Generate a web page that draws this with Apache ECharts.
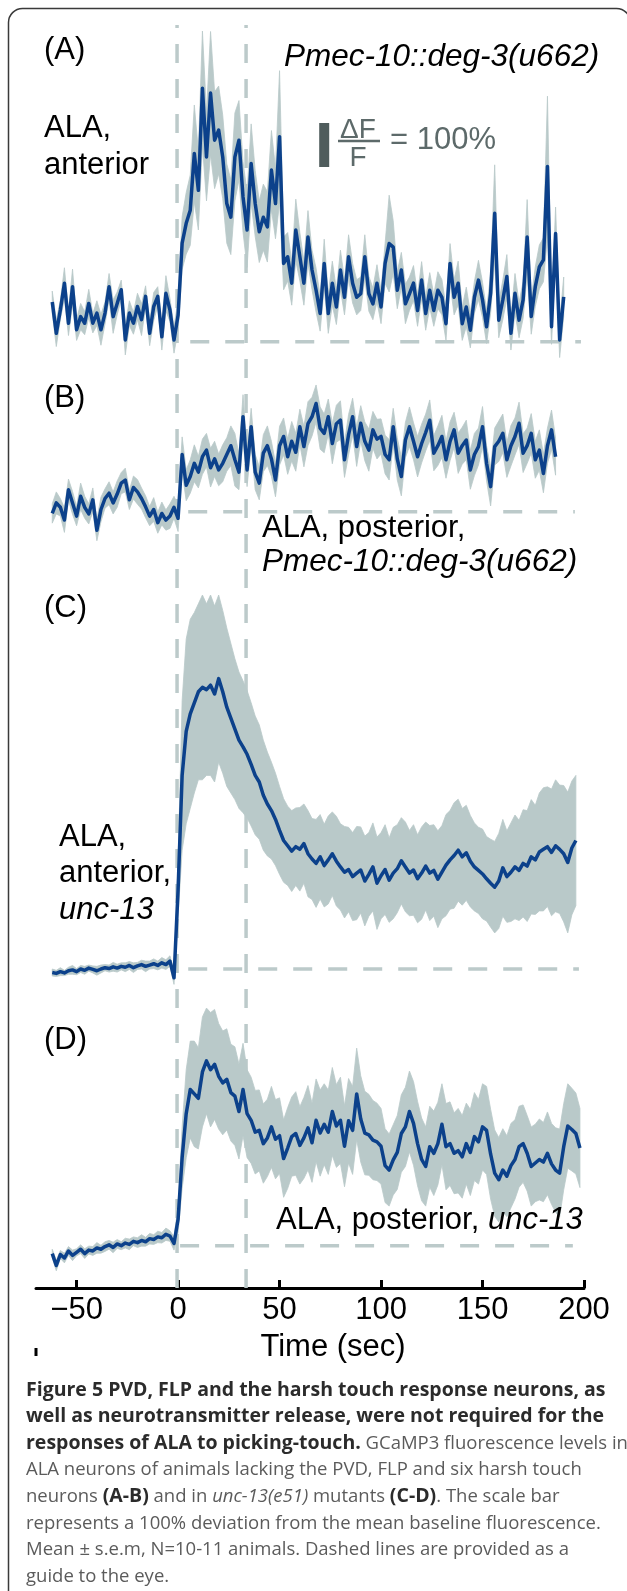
<!DOCTYPE html>
<html><head><meta charset="utf-8">
<script src="https://cdn.jsdelivr.net/npm/echarts@6/dist/echarts.min.js"></script>
<style>html,body{margin:0;padding:0;background:#fff}#c{width:627px;height:1591px}</style>
</head><body><div id="c"></div><script>
// sampling of traces: first sample time and step (s)
const T0 = -62, DT = 2;

// Panel A: ALA anterior, Pmec-10::deg-3(u662)  (dF/F, %)
const meanA = [90,19,72,133,42,125,27,57,42,87,42,65,27,65,125,57,87,118,4,65,42,80,50,103,19,80,103,11,110,72,4,
 60,224,269,299,428,344,576,420,565,458,481,420,314,283,420,458,329,254,405,314,
 250,283,261,390,314,466,178,193,133,254,193,133,238,163,117,64,178,64,133,79,
 163,101,193,133,101,109,193,109,86,133,79,178,223,215,117,163,86,109,133,71,
 140,64,117,71,117,101,41,178,101,133,41,79,26,101,140,
 95,34,110,292,49,95,148,19,110,49,95,238,57,125,170,186,398,34,246,4,102];
const semA = [25,30,22,35,28,40,24,30,26,32,22,28,35,25,30,38,26,22,34,28,25,30,36,24,28,32,22,30,40,26,30,
 35,60,70,80,110,90,130,100,140,110,100,95,90,85,100,90,80,85,90,75,
 70,75,80,90,80,150,60,55,50,70,55,50,60,45,50,40,55,45,50,40,
 45,40,50,45,40,38,50,40,36,42,38,45,110,60,42,40,45,38,40,36,
 42,38,40,36,42,40,38,45,40,50,38,45,40,36,45,
 40,38,45,110,40,45,50,38,45,40,42,85,40,45,50,50,160,40,60,40,45];

// Panel B: ALA posterior, Pmec-10::deg-3(u662)
const meanB = [-4,20,10,-19,50,20,-10,35,10,-5,27,-42,5,30,42,20,40,65,72,27,55,45,30,11,-10,5,-25,-4,-19,-10,10,
 -15,130,60,80,110,90,125,140,100,120,95,110,130,150,118,90,216,95,193,90,
 65,133,150,120,72,150,171,125,160,135,193,148,200,216,246,190,178,216,155,200,
 208,118,175,216,148,201,160,140,186,165,171,130,118,193,120,80,163,193,160,125,
 155,180,208,133,150,171,118,160,186,133,150,163,95,130,148,193,110,57,148,160,
 178,118,150,171,201,133,150,178,118,140,87,150,186,125];
const semB = [22,25,20,28,24,26,22,30,25,23,27,24,28,22,26,25,30,24,27,22,26,28,24,25,22,27,24,26,23,28,25,
 30,40,35,38,42,36,40,38,44,40,36,42,38,45,60,40,50,38,42,40,
 38,42,45,40,38,44,42,40,45,43,40,46,50,44,42,48,44,40,46,42,
 44,40,46,42,45,40,44,48,42,45,40,44,46,42,48,44,40,45,42,46,
 44,42,46,40,45,48,42,44,40,46,42,45,44,48,42,46,40,44,42,46,
 44,40,46,42,48,44,40,45,42,46,44,40,45,42];

// Panel C: ALA anterior, unc-13
const meanC = [-8,-10,-6,-9,-4,-2,-6,0,-3,2,-1,-4,0,3,1,5,2,6,4,8,3,7,10,6,9,12,8,14,10,18,-20,
 180,440,540,580,605,630,640,635,645,625,660,630,595,570,545,520,505,488,465,440,
 425,395,375,360,340,315,292,280,268,278,272,285,262,250,240,255,235,248,262,245,
 232,220,226,210,218,225,200,215,232,195,212,226,202,218,228,246,232,218,225,205,
 218,234,218,224,204,220,236,248,258,270,255,264,245,232,224,216,205,195,186,200,
 230,210,220,232,224,240,234,255,248,266,272,278,265,280,272,262,242,275,292];
const semC = [8,7,9,6,8,10,7,8,9,7,8,10,9,7,8,10,9,8,10,9,11,8,10,12,9,11,10,12,11,12,15,
 60,170,210,215,205,200,210,195,205,200,190,185,180,170,160,155,150,145,140,135,
 130,125,118,110,105,100,95,90,92,88,95,90,98,92,100,96,94,100,95,102,
 98,104,96,100,106,98,102,95,100,105,98,102,96,104,100,98,102,97,103,100,
 105,100,108,104,110,106,115,112,120,116,110,108,104,100,98,102,96,100,104,108,
 110,104,112,118,114,122,126,130,124,134,140,136,144,150,146,155,160,152,148];

// Panel D: ALA posterior, unc-13
const meanD = [-18,-45,-20,-28,-12,-22,-15,-8,-18,-10,-12,-5,-8,-2,2,-4,4,0,6,3,10,7,12,9,16,14,20,18,26,22,5,
 60,200,300,355,345,335,395,420,400,412,385,370,378,348,340,305,355,300,285,258,
 262,232,245,270,242,250,198,222,248,255,228,245,268,234,285,256,276,258,305,272,
 285,226,284,262,345,288,256,252,240,236,226,182,172,195,212,255,270,305,278,232,
 196,180,225,210,232,276,225,232,210,216,202,232,212,248,236,270,262,208,165,150,
 172,158,182,196,225,232,210,180,188,196,190,210,186,172,165,225,272,264,255,222];
const semD = [10,12,9,11,10,12,8,10,11,9,10,12,9,11,10,12,10,9,11,12,10,11,13,10,12,11,13,12,14,12,15,
 30,70,100,110,120,115,125,120,130,125,120,118,115,110,112,108,105,100,98,95,
 92,90,88,92,90,86,88,92,90,95,88,92,96,90,94,98,92,96,100,94,
 98,92,96,100,104,98,95,92,90,88,86,84,82,80,84,88,90,92,95,96,
 94,90,92,96,94,92,98,95,92,96,94,92,98,100,96,98,100,102,98,96,
 94,92,96,90,92,88,86,90,88,92,90,94,92,96,100,98,96,94,92,90];

// guide lines (s) and baselines
const guideTimes = [-0.5, 33.5];
const baseSpans = [[6,198.5],[5,195.5],[5,197.5],[1,194.5]];
// x-axis ticks
const xTicks = [-50, 0, 50, 100, 150, 200];
// scale bar: 100% dF/F
const scaleBar = [[72, 397], [72, 497]];

// ---------- layout ----------
const K = 0.44;              // px per % dF/F
const LEFT = 36, WIDTH = 548, XMIN = -70, XMAX = 200;
const panels = [
  {mean: meanA, sem: semA, base: 341.7, ymin: -60, ymax: 730},
  {mean: meanB, sem: semB, base: 511.7, ymin: -80, ymax: 330},
  {mean: meanC, sem: semC, base: 969,   ymin: -60, ymax: 900},
  {mean: meanD, sem: semD, base: 1245.7, ymin: -96, ymax: 600}
];
const BLUE = '#0c418b', BAND = '#b9c9c9', DASH = '#bccaca';
const F = '"Liberation Sans", Arial, sans-serif';

const grids = [], xAxes = [], yAxes = [], series = [];
panels.forEach((p, i) => {
  grids.push({left: LEFT, width: WIDTH, top: p.base - p.ymax * K, height: (p.ymax - p.ymin) * K});
  xAxes.push({type: 'value', gridIndex: i, min: XMIN, max: XMAX, show: false});
  yAxes.push({type: 'value', gridIndex: i, min: p.ymin, max: p.ymax, show: false});
  const bandData = p.mean.map((m, k) => [T0 + DT * k, m - p.sem[k], m + p.sem[k]]);
  const md = p.mean.map((m, k) => [T0 + DT * k, m]);
  series.push({type: 'line', xAxisIndex: i, yAxisIndex: i, data: [[baseSpans[i][0], 0], [baseSpans[i][1], 0]],
    symbol: 'none', lineStyle: {color: DASH, width: 3.5, type: [19, 16]}, z: 1, silent: true});
  series.push({type: 'custom', xAxisIndex: i, yAxisIndex: i, data: bandData, z: 2, silent: true, clip: false,
    encode: {x: 0, y: [1, 2]},
    renderItem: (params, api) => {
      if (params.dataIndex !== 0) return null;
      const up = bandData.map(d => api.coord([d[0], d[2]]));
      const dn = bandData.map(d => api.coord([d[0], d[1]])).reverse();
      return {type: 'polygon', shape: {points: up.concat(dn)}, style: {fill: BAND, stroke: BAND, lineWidth: 0.8}};
    }});
  series.push({type: 'line', xAxisIndex: i, yAxisIndex: i, data: md, symbol: 'none',
    lineStyle: {color: BLUE, width: 3.5, join: 'round'}, z: 4, silent: true});
});
// scale bar in panel A
series.push({type: 'line', xAxisIndex: 0, yAxisIndex: 0, data: scaleBar, symbol: 'none',
  lineStyle: {color: '#4f5c5c', width: 10, cap: 'butt'}, z: 5, silent: true});

// overlay grid with the visible time axis and vertical guides
grids.push({left: LEFT, width: WIDTH, top: 25, height: 1263});
xAxes.push({type: 'value', gridIndex: 4, min: XMIN, max: XMAX,
  axisLine: {show: true, lineStyle: {color: '#000', width: 3}},
  axisTick: {show: true, inside: true, length: 8, lineStyle: {color: '#000', width: 3}, customValues: xTicks},
  axisLabel: {show: true, customValues: xTicks, color: '#000', fontSize: 31, fontFamily: F, margin: 7,
    formatter: v => v < 0 ? '\u2212' + Math.abs(v) : String(v)},
  splitLine: {show: false}});
yAxes.push({type: 'value', gridIndex: 4, min: 0, max: 1, show: false});
guideTimes.forEach(t => series.push({type: 'line', xAxisIndex: 4, yAxisIndex: 4, data: [[t, 0], [t, 1]],
  symbol: 'none', lineStyle: {color: DASH, width: 3.5, type: [19, 16]}, z: 1, silent: true}));

function txt(text, x, y, size, opts) {
  opts = opts || {};
  return {type: 'text', silent: true, z: 10, style: Object.assign({
    text: text, x: x, y: y, fill: opts.fill || '#000',
    font: (opts.italic ? 'italic ' : '') + (opts.bold ? 'bold ' : '') + size + 'px ' + (opts.family || F),
    textAlign: opts.align || 'left', align: opts.align || 'left',
    textVerticalAlign: 'middle', verticalAlign: 'middle'
  }, opts.extra || {})};
}
const CF = '"Open Sans", "Noto Sans", sans-serif';
const CS = 18.5, CB = 19.5;
const rich = {
  b: {fontWeight: 'bold', fill: '#2b2b2b', fontFamily: CF, fontSize: CB},
  r: {fill: '#5b5b5b', fontFamily: CF, fontSize: CS},
  i: {fontStyle: 'italic', fill: '#5b5b5b', fontFamily: CF, fontSize: CS}
};
const capLines = [
  '{b|Figure 5 PVD, FLP and the harsh touch response neurons, as}',
  '{b|well as neurotransmitter release, were not required for the}',
  '{b|responses of ALA to picking-touch.}{r| GCaMP3 fluorescence levels in}',
  '{r|ALA neurons of animals lacking the PVD, FLP and six harsh touch}',
  '{r|neurons }{b|(A-B)}{r| and in }{i|unc-13(e51)}{r| mutants }{b|(C-D)}{r|. The scale bar}',
  '{r|represents a 100% deviation from the mean baseline fluorescence.}',
  '{r|Mean \u00b1 s.e.m, N=10-11 animals. Dashed lines are provided as a}',
  '{r|guide to the eye.}'
];
const graphics = [
  {type: 'rect', silent: true, shape: {x: 8.5, y: 8.5, width: 622, height: 1640, r: 14},
    style: {fill: 'none', stroke: '#3a3a3a', lineWidth: 1.5}},
  txt('(A)', 44, 50, 31),
  txt('ALA,', 44, 128, 31),
  txt('anterior', 44, 165, 31),
  txt('Pmec-10::deg-3(u662)', 284, 57, 31.5, {italic: true}),
  txt('\u0394F', 358, 130, 28, {align: 'center', fill: '#5d6a6a'}),
  {type: 'line', silent: true, shape: {x1: 338, y1: 141, x2: 380, y2: 141}, style: {stroke: '#5d6a6a', lineWidth: 2.5}},
  txt('F', 358, 158, 28, {align: 'center', fill: '#5d6a6a'}),
  txt('= 100%', 390, 140, 31, {fill: '#5d6a6a'}),
  txt('(B)', 44, 398, 31),
  txt('ALA, posterior,', 262, 528, 31),
  txt('Pmec-10::deg-3(u662)', 262, 562, 31.5, {italic: true}),
  txt('(C)', 44, 608, 31),
  txt('ALA,', 59, 837, 31),
  txt('anterior,', 59, 873, 31),
  txt('unc-13', 59, 910, 31, {italic: true}),
  txt('(D)', 44, 1040, 31),
  txt('{n|ALA, posterior, }{it|unc-13}', 276, 1220, 31, {extra: {rich: {
    n: {fontSize: 31, fontFamily: F, fill: '#000'},
    it: {fontSize: 31, fontFamily: F, fontStyle: 'italic', fill: '#000'}}}}),
  txt('Time (sec)', 333, 1347, 31, {align: 'center'}),
  {type: 'rect', silent: true, shape: {x: 34.5, y: 1348, width: 3, height: 8}, style: {fill: '#000'}}
];
const capY = [1390, 1416.7, 1443.3, 1470, 1496.7, 1523.3, 1550, 1576.7];
capLines.forEach((l, k) => graphics.push(txt(l, 26, capY[k], CS, {family: CF, extra: {rich: rich}})));

const chart = echarts.init(document.getElementById('c'), null, {renderer: 'canvas'});
chart.setOption({
  animation: false,
  backgroundColor: '#fff',
  grid: grids, xAxis: xAxes, yAxis: yAxes, series: series,
  graphic: {elements: graphics}
});
</script></body></html>
